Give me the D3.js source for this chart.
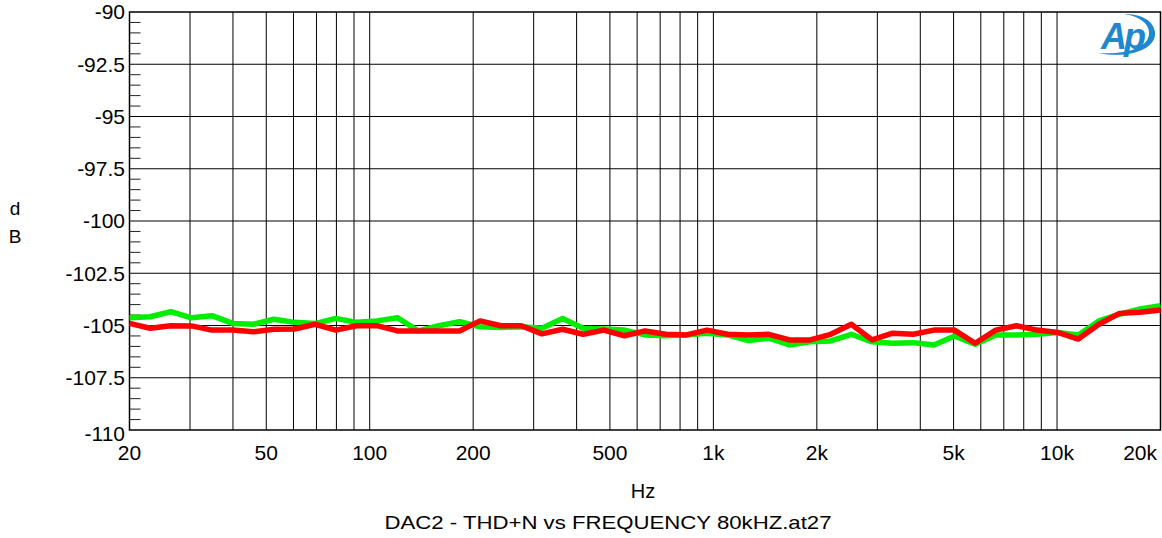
<!DOCTYPE html>
<html><head><meta charset="utf-8">
<script src="https://cdn.jsdelivr.net/npm/d3@7/dist/d3.min.js"></script>
<style>
html,body{margin:0;padding:0;background:#fff;}
svg{display:block;font-family:"Liberation Sans",Arial,sans-serif;}
</style></head>
<body>
<svg id="chart" width="1162" height="538"></svg>
<script>
// ---- data ----
const freqs = [20,22.96,26.37,30.27,34.75,39.91,45.82,52.61,60.41,69.36,79.64,
  91.44,105.0,120.5,138.4,158.9,182.5,209.5,240.6,276.2,317.0,
  364.1,418.0,480.0,551.2,632.9,726.7,834.4,958.1,1100,1263,
  1450,1665,1912,2195,2520,2894,3323,3815,4381,5030,
  5776,6632,7615,8743,10039,11527,13236,15197,17450,20000];
const greenSeries = [-104.63,-104.58,-104.34,-104.63,-104.53,-104.90,-104.94,-104.70,-104.85,-104.91,-104.66,
  -104.85,-104.78,-104.63,-105.26,-105.01,-104.82,-105.06,-105.09,-105.06,-105.13,
  -104.66,-105.13,-105.17,-105.22,-105.45,-105.49,-105.45,-105.37,-105.45,-105.72,
  -105.61,-105.93,-105.78,-105.74,-105.42,-105.78,-105.85,-105.82,-105.93,-105.50,
  -105.90,-105.45,-105.45,-105.42,-105.33,-105.45,-104.78,-104.46,-104.21,-104.05];
const redSeries = [-104.90,-105.13,-105.01,-105.02,-105.22,-105.22,-105.30,-105.18,-105.17,-104.94,-105.22,
  -105.01,-105.01,-105.26,-105.26,-105.26,-105.26,-104.78,-105.01,-105.01,-105.40,
  -105.18,-105.42,-105.22,-105.49,-105.26,-105.42,-105.45,-105.22,-105.42,-105.45,
  -105.42,-105.69,-105.69,-105.42,-104.94,-105.69,-105.37,-105.42,-105.22,-105.22,
  -105.85,-105.22,-105.01,-105.22,-105.33,-105.65,-104.94,-104.42,-104.37,-104.26];
const yTicks = [-90,-92.5,-95,-97.5,-100,-102.5,-105,-107.5,-110];
const yTickLabels = ["-90","-92.5","-95","-97.5","-100","-102.5","-105","-107.5","-110"];
const xTicks = [20,50,100,200,500,1000,2000,5000,10000,20000];
const xTickLabels = ["20","50","100","200","500","1k","2k","5k","10k","20k"];
const xGrid = [30,40,50,60,70,80,90,100,200,300,400,500,600,700,800,900,
  1000,2000,3000,4000,5000,6000,7000,8000,9000,10000];
const titleText = "DAC2 - THD+N vs FREQUENCY 80kHZ.at27";

// ---- layout ----
const L = 129.5, R = 1160.5, T = 12, B = 430;
const svg = d3.select("#chart");
const x = d3.scaleLog().domain([20,20000]).range([L,R]);
const y = d3.scaleLinear().domain([-110,-90]).range([B,T]);

// grid
const g = svg.append("g");
g.selectAll("line.vg").data(xGrid).enter().append("line")
  .attr("x1",d=>x(d)).attr("x2",d=>x(d)).attr("y1",T).attr("y2",B)
  .attr("stroke","#000").attr("stroke-width",1);
g.selectAll("line.hg").data(yTicks.slice(1,-1)).enter().append("line")
  .attr("x1",L).attr("x2",R).attr("y1",d=>y(d)).attr("y2",d=>y(d))
  .attr("stroke","#000").attr("stroke-width",1);
// minor ticks on left
const minor = d3.range(-110,-89.99,0.5).filter(v=>Math.abs(v/2.5-Math.round(v/2.5))>1e-6);
g.selectAll("line.mt").data(minor).enter().append("line")
  .attr("x1",L).attr("x2",L+11).attr("y1",d=>y(d)).attr("y2",d=>y(d))
  .attr("stroke","#222").attr("stroke-width",1);
// frame
g.append("rect").attr("x",L).attr("y",T).attr("width",R-L).attr("height",B-T)
  .attr("fill","none").attr("stroke","#000").attr("stroke-width",1.5);

// axes labels
svg.append("g").selectAll("text").data(yTicks).enter().append("text")
  .attr("x",125).attr("y",d=>y(d)+(d===-110?4:0)).attr("dy","0.35em")
  .attr("text-anchor","end").attr("font-size",21).attr("fill","#000")
  .text((d,i)=>yTickLabels[i]);
svg.append("g").selectAll("text").data(xTicks).enter().append("text")
  .attr("x",d=>d===20000?1157:x(d)).attr("y",453).attr("dy","0.35em")
  .attr("text-anchor",d=>d===20000?"end":"middle").attr("font-size",21).attr("fill","#000")
  .text((d,i)=>xTickLabels[i]);
svg.append("text").attr("x",643).attr("y",491).attr("dy","0.35em")
  .attr("text-anchor","middle").attr("font-size",20).text("Hz");
svg.append("text").attr("x",15).attr("y",208).attr("dy","0.35em")
  .attr("text-anchor","middle").attr("font-size",19).text("d");
svg.append("text").attr("x",15).attr("y",236).attr("dy","0.35em")
  .attr("text-anchor","middle").attr("font-size",19).text("B");
svg.append("text").attr("x",608).attr("y",522).attr("dy","0.35em")
  .attr("text-anchor","middle").attr("font-size",19)
  .attr("textLength",447).attr("lengthAdjust","spacingAndGlyphs").text(titleText);

// lines
const line = d3.line().x((d,i)=>x(freqs[i])).y(d=>y(d));
const plot = svg.append("g");
plot.append("path").datum(greenSeries).attr("d",line)
  .attr("fill","none").attr("stroke","#00ee00").attr("stroke-width",5.5)
  .attr("stroke-linejoin","round");
plot.append("path").datum(redSeries).attr("d",line)
  .attr("fill","none").attr("stroke","#ff0000").attr("stroke-width",5.5)
  .attr("stroke-linejoin","round");

// AP logo
const logo = svg.append("g");
logo.append("path")
  .attr("d","M1098,53 C1127,59 1157,50 1155,32 C1153,19 1139,14 1124,14 C1139,16 1150,24 1149,34 C1148,48 1126,55 1098,53 Z")
  .attr("fill","#1f86d0");
logo.append("text").attr("x",1101).attr("y",49)
  .attr("font-size",36).attr("font-style","italic").attr("font-weight","bold")
  .attr("fill","#1f86d0").attr("letter-spacing",-3).text("Ap");
</script>
</body></html>
